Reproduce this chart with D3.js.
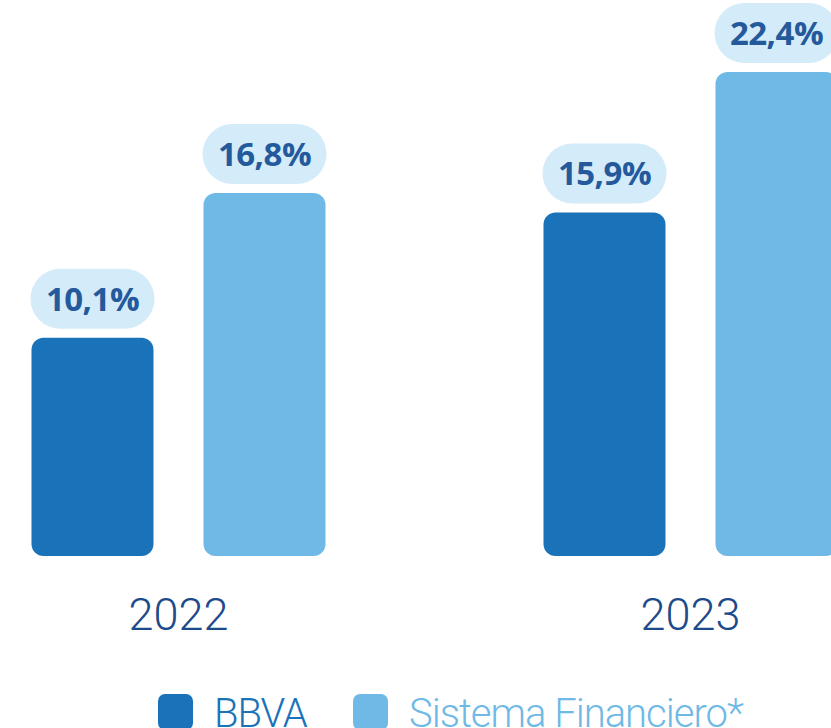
<!DOCTYPE html>
<html><head><meta charset="utf-8">
<script src="https://cdn.jsdelivr.net/npm/d3@7"></script>
<style>html,body{margin:0;padding:0;background:#fff;overflow:hidden}</style>
</head><body>
<svg id="c" width="831" height="728"></svg>
<script>
const years = ["2022", "2023"];
const series = ["BBVA", "Sistema Financiero*"];
const bbvaValues = [10.1, 15.9];
const sistemaValues = [16.8, 22.4];
const valueLabels = [["10,1%", "16,8%"], ["15,9%", "22,4%"]];
const colors = ["#1a73b9", "#6fb9e6"];

const svg = d3.select("#c");
const base = 556;
const y = d3.scaleLinear().domain([0, 22.4]).range([base, base - 484]);
const x0 = d3.scalePoint().domain(years).range([178.5, 690.5]);
const x1 = d3.scaleBand().domain(series).range([-147, 147]).paddingInner(50/172).paddingOuter(0);

const data = [];
years.forEach((yr, i) => {
  data.push({year: yr, s: series[0], v: bbvaValues[i], label: valueLabels[i][0], c: colors[0]});
  data.push({year: yr, s: series[1], v: sistemaValues[i], label: valueLabels[i][1], c: colors[1]});
});

const g = svg.append("g");
g.selectAll("rect.bar").data(data).join("rect")
  .attr("class", "bar")
  .attr("x", d => x0(d.year) + x1(d.s))
  .attr("y", d => y(d.v))
  .attr("width", x1.bandwidth())
  .attr("height", d => base - y(d.v))
  .attr("rx", 12).attr("ry", 12)
  .attr("fill", d => d.c);

const bw = 124, bh = 60, gap = 9;
g.selectAll("rect.bub").data(data).join("rect")
  .attr("class", "bub")
  .attr("x", d => x0(d.year) + x1(d.s) + x1.bandwidth()/2 - bw/2)
  .attr("y", d => y(d.v) - gap - bh)
  .attr("width", bw).attr("height", bh)
  .attr("rx", bh/2).attr("ry", bh/2)
  .attr("fill", "#d4ebf9");

g.selectAll("text.val").data(data).join("text")
  .attr("class", "val")
  .attr("x", d => x0(d.year) + x1(d.s) + x1.bandwidth()/2)
  .attr("y", d => y(d.v) - gap - bh/2 + 12)
  .attr("text-anchor", "middle")
  .attr("font-family", "'Open Sans', sans-serif")
  .attr("font-weight", 700)
  .attr("font-size", 33)
  .attr("letter-spacing", -0.5)
  .attr("fill", "#245a9c")
  .text(d => d.label);

g.selectAll("text.year").data(years).join("text")
  .attr("class", "year")
  .attr("x", d => x0(d))
  .attr("y", 630)
  .attr("text-anchor", "middle")
  .attr("font-family", "Roboto, sans-serif")
  .attr("font-weight", 300)
  .attr("font-size", 45)
  .attr("fill", "#1c4a8a")
  .text(d => d);

const legendX = [158, 353];
const lg = svg.append("g");
series.forEach((s, i) => {
  lg.append("rect").attr("x", legendX[i]).attr("y", 694).attr("width", 35).attr("height", 36)
    .attr("rx", 7).attr("fill", colors[i]);
  lg.append("text").attr("x", legendX[i] + 56).attr("y", 727)
    .attr("font-family", "Roboto, sans-serif").attr("font-weight", 300)
    .attr("font-size", 40).attr("letter-spacing", -1).attr("fill", colors[i])
    .text(s);
});
</script>
</body></html>
